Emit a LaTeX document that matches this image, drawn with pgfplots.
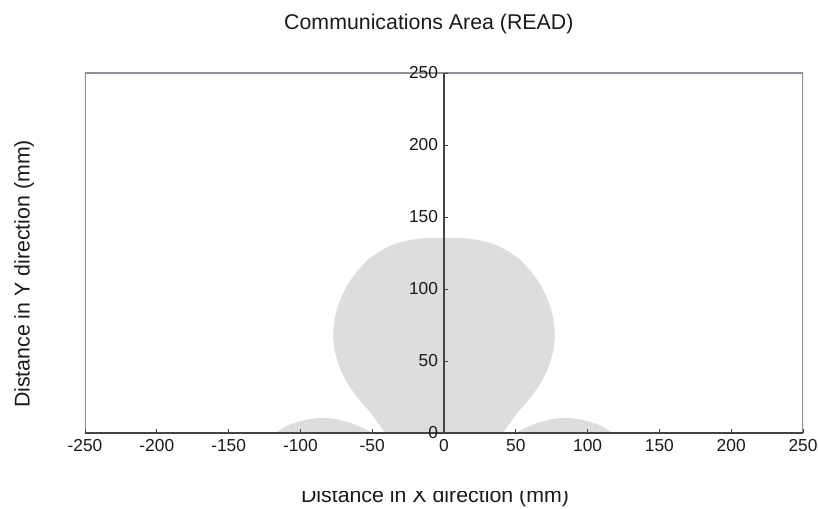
\documentclass[border=0pt]{standalone}
\usepackage{fontspec}
\setmainfont{Liberation Sans}
\usepackage{pgfplots}
\pgfplotsset{compat=1.18}

\definecolor{lobe}{HTML}{DCDDDF}
\definecolor{frame}{HTML}{8E9399}
\definecolor{axisdark}{HTML}{444444}
\definecolor{txt}{HTML}{1A1A1A}

\begin{document}
\begin{tikzpicture}
% fixed page: 1px = 0.75pt, axis box lower-left corner at (0,0)
\useasboundingbox (-63.75pt,-57pt) rectangle (549.75pt,324.75pt);
\begin{axis}[
  scale only axis,
  width=538.5pt, height=270pt,
  xmin=-250, xmax=250, ymin=0, ymax=250,
  axis x line=bottom,
  axis y line=middle,
  x axis line style={-, draw=axisdark, line width=1pt},
  y axis line style={-, draw=axisdark, line width=0.8pt},
  xtick={-250,-200,...,250},
  xticklabels={-250,-200,-150,-100,-50,0,50,100,150,200,250},
  ytick={0,50,...,250},
  yticklabels={0,50,100,150,200,250},
  tick align=inside,
  major tick length=3pt,
  tick style={draw=axisdark, line width=0.7pt},
  xticklabel style={anchor=north, inner sep=0pt, yshift=-4.5pt, font=\fontsize{13}{15}\selectfont, text=txt},
  yticklabel style={anchor=east, inner sep=0pt, xshift=-4.3pt, font=\fontsize{13}{15}\selectfont, text=txt},
  axis on top,
  clip=true,
]
% main lobe
\addplot[fill=lobe, draw=none] coordinates {
  (-41,0) (-42.5,2) (-46,7) (-50.4,13.3) (-55.5,19) (-60.5,25)
  (-65,31) (-68.7,37) (-71.6,43) (-73.9,49) (-75.6,55) (-76.7,61)
  (-77.2,67) (-77,73) (-76.2,79) (-74.8,85) (-72.8,91) (-70.3,97)
  (-67,103) (-63,109) (-58.3,115) (-52.8,120.5) (-46.5,125.2)
  (-39.5,129) (-32,132) (-24,134) (-16,135.1) (-8,135.5) (0,135.6)
  (8,135.5) (16,135.1) (24,134) (32,132) (39.5,129) (46.5,125.2)
  (52.8,120.5) (58.3,115) (63,109) (67,103) (70.3,97) (72.8,91)
  (74.8,85) (76.2,79) (77,73) (77.2,67) (76.7,61) (75.6,55)
  (73.9,49) (71.6,43) (68.7,37) (65,31) (60.5,25) (55.5,19)
  (50.4,13.3) (46,7) (42.5,2) (41,0)
} -- cycle;
% left side lobe
\addplot[fill=lobe, draw=none] coordinates {
  (-116.5,0) (-114,2.5) (-110,4.8) (-105,6.7) (-100,8.2) (-94,9.6)
  (-88,10.4) (-82,10.5) (-76,9.8) (-70,8.3) (-64,6.6) (-60,5)
  (-56,3.4) (-53,1.8) (-50,0)
} -- cycle;
% right side lobe
\addplot[fill=lobe, draw=none] coordinates {
  (50,0) (53,1.8) (56,3.4) (60,5) (64,6.6) (70,8.3) (76,9.8)
  (82,10.5) (88,10.4) (94,9.6) (100,8.2) (105,6.7) (110,4.8)
  (114,2.5) (116.5,0)
} -- cycle;
% grey frame
\draw[frame, line width=1.4pt] (rel axis cs:0,0) rectangle (rel axis cs:1,1);
\draw[axisdark, line width=1pt] (rel axis cs:0,0) -- (rel axis cs:1,0);
\end{axis}
% origin label of the vertical axis (x = 0 lies at 269.25pt)
\node[anchor=east, inner sep=0pt, text=txt, font=\fontsize{13}{15}\selectfont] at (264.95pt,0pt) {0};
% title and axis labels
\node[anchor=base, text=txt, font=\fontsize{16}{19}\selectfont] at (257.9pt,302.25pt) {Communications Area (READ)};
\node[anchor=base, text=txt, font=\fontsize{16}{19}\selectfont] at (262.5pt,-52pt) {Distance in X direction (mm)};
\fill[white] (153.75pt,-43.5pt) rectangle (371.25pt,-26pt);
\node[anchor=base, rotate=90, text=txt, font=\fontsize{16}{19}\selectfont] at (-41.6pt,119.25pt) {Distance in Y direction (mm)};
\end{tikzpicture}
\end{document}
